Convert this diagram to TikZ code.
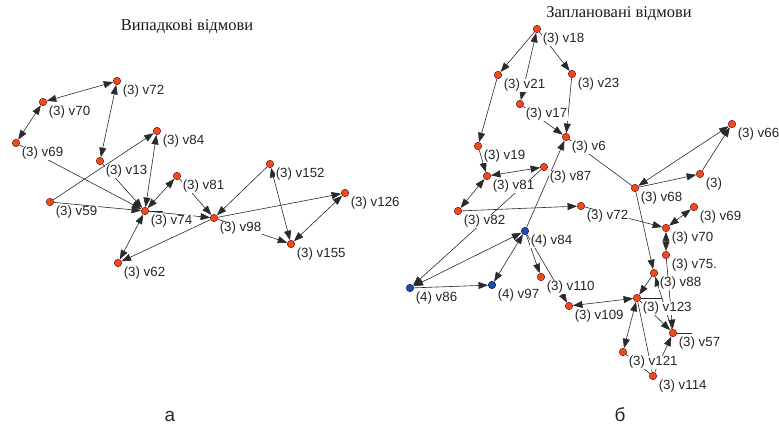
\documentclass[tikz,border=0pt]{standalone}
\usepackage{fontspec}
\setmainfont{Liberation Serif}
\setsansfont{Liberation Sans}
\usetikzlibrary{arrows.meta}
\pgfdeclarelayer{bg}
\pgfdeclarelayer{fg}
\pgfsetlayers{bg,main,fg}
\definecolor{dotred}{HTML}{F04A1C}
\definecolor{dotblue}{HTML}{1E4FA8}
\definecolor{edgegray}{HTML}{2A2A2A}
\tikzset{
  dot/.style={circle, fill=dotred, draw=black!60!red, line width=0.4pt, minimum size=7.5pt, inner sep=0pt},
  bdot/.style={dot, fill=dotblue, draw=black!60!blue},
  lab/.style={anchor=west, fill=white, inner sep=0.6pt, font=\sffamily\fontsize{13.3}{14}\selectfont, text=black!85},
  edge/.style={draw=edgegray, line width=0.6pt},
  ar/.style={edge, -{Triangle[length=9.5pt,width=7pt]}},
  br/.style={edge, {Triangle[length=9.5pt,width=7pt]}-{Triangle[length=9.5pt,width=7pt]}},
  ttl/.style={font=\fontsize{16.5}{18}\selectfont, text=black!90},
  sub/.style={font=\sffamily\fontsize{19}{20}\selectfont, anchor=base, text=black!85},
}
\newcommand\gnode[5][dot]{%
  \node[lab] (#2l) at (#3+5,#4+10.5) {#5};
  \begin{pgfonlayer}{fg}\node[#1] (#2) at (#3,#4) {};\end{pgfonlayer}}
\begin{document}
\begin{tikzpicture}[x=1pt,y=-1pt]
\useasboundingbox (0,0) rectangle (779,428);
% titles
\node[ttl] (t1) at (187,27) {Випадкові відмови};
\node[ttl] (t2) at (619,14) {Заплановані відмови};
\node[sub] (ta) at (170,421) {а};
\node[sub] (tb) at (620,421) {б};
% left graph nodes
\gnode{v72}{117}{81}{(3) v72}
\gnode{v70}{43}{102}{(3) v70}
\gnode{v69}{16}{143}{(3) v69}
\gnode{v13}{100}{161}{(3) v13}
\gnode{v84}{157}{131}{(3) v84}
\gnode{v59}{50}{202}{(3) v59}
\gnode{v74}{145}{211}{(3) v74}
\gnode{v81}{177}{176}{(3) v81}
\gnode{v62}{118}{263}{(3) v62}
\gnode{v98}{214}{218}{(3) v98}
\gnode{v152}{270}{164}{(3) v152}
\gnode{v126}{345}{193}{(3) v126}
\gnode{v155}{291}{244}{(3) v155}
% right graph nodes
\gnode{r18}{537}{29}{(3) v18}
\gnode{r21}{498}{75}{(3) v21}
\gnode{r23}{572}{74}{(3) v23}
\gnode{r17}{520}{104}{(3) v17}
\gnode{r6}{566}{137}{(3) v6}
\gnode{r19}{478}{146}{(3) v19}
\gnode{r81}{487}{176}{(3) v81}
\gnode{r87}{544}{167}{(3) v87}
\gnode{r82}{458}{211}{(3) v82}
\gnode{r72}{581}{206}{(3) v72}
\gnode[bdot]{r84}{525}{231}{(4) v84}
\gnode[bdot]{r86}{410}{288}{(4) v86}
\gnode[bdot]{r97}{492}{285}{(4) v97}
\gnode{r110}{541}{277}{(3) v110}
\gnode{r109}{569}{306}{(3) v109}
\gnode{r68}{635}{188}{(3) v68}
\gnode{r66}{732}{124}{(3) v66}
\gnode{r3}{700}{174}{(3)}
\gnode{r69}{694}{207}{(3) v69}
\gnode{r70}{666}{228}{(3) v70}
\gnode{r75}{666}{255}{(3) v75.}
\gnode{r88}{654}{273}{(3) v88}
\gnode{r123}{637}{298}{(3) v123}
\gnode{r57}{673}{333}{(3) v57}
\gnode{r121}{623}{352}{(3) v121}
\gnode{r114}{653}{376}{(3) v114}
\coordinate (k74) at (163,211);
\coordinate (k123) at (662,298);
\coordinate (k57) at (692,333);
\begin{pgfonlayer}{bg}
% left edges
\draw[br] (v70) -- (v72);
\draw[br] (v70) -- (v69);
\draw[br] (v72) -- (v13);
\draw[ar] (v59) -- (v84);
\draw[br] (v84) -- (v74);
\draw[ar] (v69) -- (v74);
\draw[ar] (v59) -- (v74);
\draw[ar] (v13) -- (v74);
\draw[br] (v74) -- (v81);
\draw[ar] (v81) -- (v98);
\draw[br] (v74) -- (v62);
\draw[ar] (v98) -- (v62);
\draw[ar] (v74) -- (v98);
\draw[ar] (v152) -- (v98);
\draw[ar] (v98) -- (v126);
\draw[br] (v152) -- (v155);
\draw[ar] (v98) -- (v155);
\draw[br] (v126) -- (v155);
\draw[edge] (v74) -- (k74);
% right edges
\draw[ar] (r18) -- (r21);
\draw[br] (r17) -- (r18);
\draw[ar] (r18) -- (r23);
\draw[ar] (r23) -- (r6);
\draw[ar] (r17) -- (r6);
\draw[ar] (r21) -- (r19);
\draw[ar] (r19) -- (r81);
\draw[br] (r81) -- (r87);
\draw[br] (r81) -- (r82);
\draw[ar] (r87) -- (r86);
\draw[br] (r84) -- (r86);
\draw[ar] (r86) -- (r97);
\draw[br] (r84) -- (r97);
\draw[ar] (r84) -- (r6);
\draw[ar] (r82) -- (r72);
\draw[ar] (r84) -- (r110);
\draw[ar] (r84) -- (r109);
\draw[br] (r109) -- (r123);
\draw[edge] (r6) -- (r68);
\draw[br] (r66) -- (r68);
\draw[ar] (r68) -- (r3);
\draw[ar] (r3) -- (r66);
\draw[ar] (r72) -- (r70);
\draw[br] (r69) -- (r70);
\draw[br] (r70) -- (r75);
\draw[ar] (r68) -- (r88);
\draw[ar] (r88) -- (r123);
\draw[ar] (r57) -- (r88);
\draw[ar] (r75) -- (r57);
\draw[ar] (r123) -- (r57);
\draw[ar] (r114) -- (r57);
\draw[br] (r121) -- (r123);
\draw[edge] (r123) -- (r114);
\draw[edge] (r121) -- (r114);
\draw[edge] (r123) -- (k123);
\draw[edge] (r57) -- (k57);
\end{pgfonlayer}
\end{tikzpicture}
\end{document}
